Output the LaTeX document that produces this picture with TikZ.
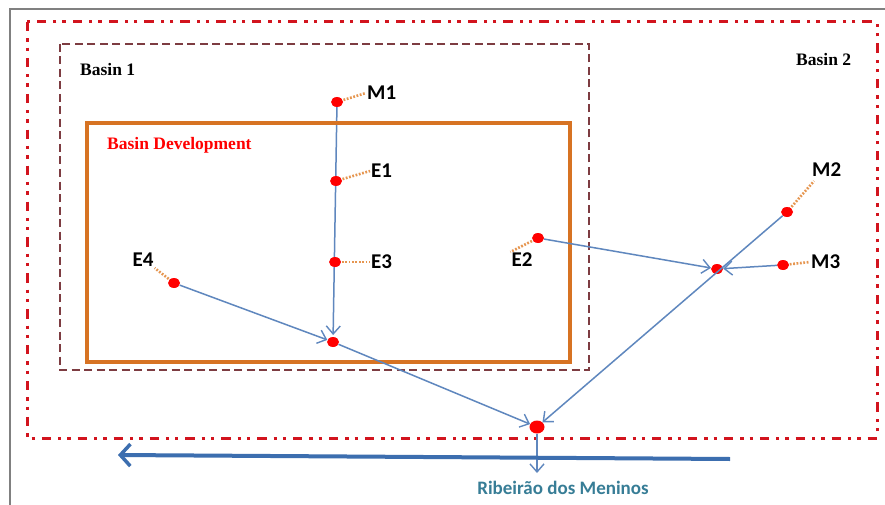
\documentclass[tikz,border=0pt]{standalone}
\usepackage{fontspec}
\setmainfont{Liberation Serif}
\newfontfamily\calib{Carlito}
\usetikzlibrary{arrows.meta,shapes.geometric}
\pgfdeclarelayer{background}
\pgfdeclarelayer{paper}
\pgfsetlayers{paper,background,main}
\definecolor{framegray}{RGB}{128,128,128}
\definecolor{basinred}{RGB}{210,20,30}
\definecolor{basinbrown}{RGB}{125,60,65}
\definecolor{devorange}{RGB}{215,115,35}
\definecolor{leaderor}{RGB}{230,150,80}
\definecolor{flowblue}{RGB}{95,135,190}
\definecolor{riverblue}{RGB}{60,110,175}
\definecolor{rivertext}{RGB}{55,125,150}
\tikzset{
  dotnode/.style={ellipse,fill=red,draw=none,minimum width=12pt,minimum height=10pt,inner sep=0pt},
  bigdot/.style={ellipse,fill=red,draw=none,minimum width=15pt,minimum height=13pt,inner sep=0pt},
  ptlabel/.style={font=\calib\bfseries\fontsize{21}{21}\selectfont,inner sep=1pt},
  basinlabel/.style={font=\bfseries\fontsize{17.5}{17.5}\selectfont,inner sep=0pt},
  leader/.style={draw=leaderor,line width=2.6pt,dash pattern=on 1.8pt off 1.6pt},
  flow/.style={draw=flowblue,line width=1.5pt,-{Straight Barb[length=8pt,width=14pt,line width=1.4pt]}},
}
\begin{document}
\begin{tikzpicture}[x=1pt,y=-1pt]
\useasboundingbox (0,0) rectangle (885,505);
\begin{pgfonlayer}{paper}
\fill[white] (0,0) rectangle (885,505);
\end{pgfonlayer}
% page frame
\draw[framegray,line width=2pt] (10,505) -- (10,9) -- (885,9);
% Basin 2 region
\draw[basinred,line width=3pt,dash pattern=on 9.3pt off 7pt on 3.3pt off 6pt on 3.3pt off 7pt] (27,22) rectangle (877,438);
% Basin 1 region
\draw[basinbrown,line width=2.7pt,dash pattern=on 8pt off 4.5pt] (60,44) rectangle (589,370);
% Basin development
\draw[devorange,line width=3.4pt] (87,123) rectangle (570,362);
% titles
\node[basinlabel,anchor=west] (b1) at (80,70) {Basin 1};
\node[basinlabel,anchor=west] (b2) at (796,60) {Basin 2};
\node[basinlabel,anchor=west,text=red] (bd) at (107,145) {Basin Development};
% points
\node[dotnode] (M1) at (337,102) {};
\node[dotnode] (E1) at (336,181) {};
\node[dotnode] (E3) at (335,262) {};
\node[dotnode] (E4) at (174,283) {};
\node[dotnode] (A) at (333,342) {};
\node[dotnode] (E2) at (538,238) {};
\node[dotnode] (B) at (717,269) {};
\node[dotnode] (M2) at (787,212) {};
\node[dotnode] (M3) at (783,265) {};
\node[bigdot] (C) at (537,427) {};
% labels
\node[ptlabel,anchor=west] (M1l) at (366,93) {M1};
\node[ptlabel,anchor=west] (E1l) at (370,171) {E1};
\node[ptlabel,anchor=west] (E3l) at (370,262) {E3};
\node[ptlabel] (E4l) at (143,260) {E4};
\node[ptlabel] (E2l) at (522,260) {E2};
\node[ptlabel,anchor=west] (M2l) at (811,170) {M2};
\node[ptlabel,anchor=west] (M3l) at (810,262) {M3};
\begin{pgfonlayer}{background}
\draw[leader] (M1.center) -- (M1l.west);
\draw[leader] (E1.center) -- (E1l.west);
\draw[leader] (E3.center) -- (E3l.west);
\draw[leader] (E4.center) -- (E4l.south east);
\draw[leader] (E2.center) -- (E2l.north west);
\draw[leader] (M2.center) -- ([xshift=3pt,yshift=-3pt]M2l.south west);
\draw[leader] (M3.center) -- (M3l.west);
\draw[flow,shorten >=7pt] (M1.center) -- (A.center);
\end{pgfonlayer}
% flows
\draw[flow] (E4) -- (A);
\draw[flow] (A) -- (C);
\draw[flow] (E2) -- (B);
\draw[flow] (M3) -- (B);
\draw[flow] (M2) -- (C);
% outlet
\coordinate (out) at (537,473);
\draw[flow] (C) -- (out);
% river
\coordinate (rs) at (730,459);
\coordinate (re) at (118,455);
\draw[riverblue,line width=4pt,-{Straight Barb[length=10pt,width=22pt,line width=3.5pt]}] (rs) -- (re);
\node[font=\calib\bfseries\fontsize{19}{19}\selectfont,text=rivertext] (rdm) at (563,488) {Ribeirão dos Meninos};
\end{tikzpicture}
\end{document}
